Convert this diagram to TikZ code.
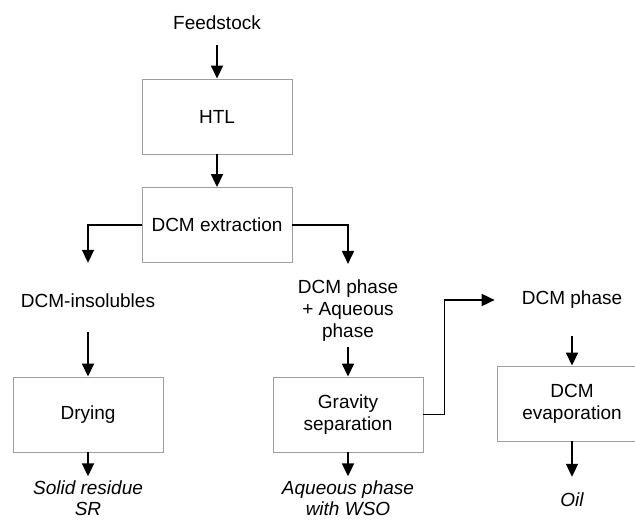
\documentclass[tikz,border=0pt]{standalone}
\usepackage{fontspec}
\setmainfont{Liberation Sans}
\usetikzlibrary{arrows.meta}

\begin{document}
\begin{tikzpicture}[x=1pt, y=-1pt,
  every node/.style={font=\fontsize{19}{22}\selectfont, inner sep=0pt, align=center},
  box/.style={draw=black!38, line width=0.9pt, minimum width=150pt, minimum height=75pt},
  product/.style={font=\fontsize{19}{21}\selectfont\itshape},
  arr/.style={-{Triangle[width=12pt,length=13pt]}, line width=1.8pt}]
\path[use as bounding box, clip] (0,0) rectangle (635,520);
% Nodes
\node (feed) at (217,23) {Feedstock};
\node[box] (htl) at (217,116.5) {HTL};
\node[box] (ext) at (217,225) {DCM extraction};
\node (insol) at (88,301) {DCM-insolubles};
\node (mix) at (348,311) {DCM phase\\+ Aqueous\\phase};
\node[box] (dry) at (88,414.5) {Drying};
\node[box] (grav) at (348,414.5) {Gravity\\separation};
\node[product] (sr) at (88,498) {Solid residue\\SR};
\node[product] (wso) at (348,498) {Aqueous phase\\with WSO};
\node (dcmph) at (572,300) {DCM phase};
\node[box] (evap) at (572,403.5) {DCM\\evaporation};
\node[product] (oil) at (572,500) {Oil};
% Edges
\draw[arr, shorten <=15pt] (feed) -- (htl);
\draw[arr] (htl) -- (ext);
\draw[arr, shorten >=31pt] (ext.west) -| (insol);
\draw[arr, shorten >=16pt] (ext.east) -| (mix);
\draw[arr, shorten <=24pt] (insol) -- (dry);
\draw[arr, shorten <=5pt] (mix) -- (grav);
\draw[arr, shorten >=4pt] (dry) -- (sr);
\draw[arr, shorten >=4pt] (grav) -- (wso);
\draw[arr, shorten >=27pt] (grav.east) -- ++(21,0) |- (dcmph);
\draw[arr, shorten <=27pt] (dcmph) -- (evap);
\draw[arr, shorten >=16pt] (evap) -- (oil);
\end{tikzpicture}
\end{document}
